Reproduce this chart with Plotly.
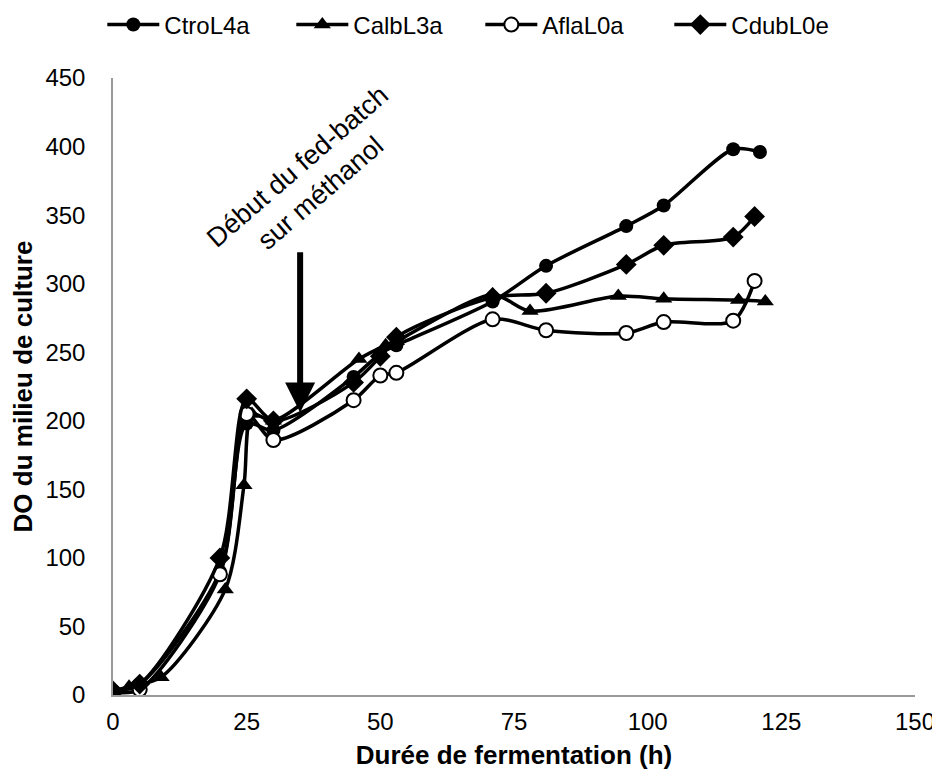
import plotly.graph_objects as go

# ---- data ----
ctro_x = [0, 5, 20, 25, 30, 45, 50, 53, 71, 81, 96, 103, 116, 121]
ctro_y = [3, 8, 90, 198, 193, 232, 249, 255, 287, 313, 342, 357, 398, 396]

calb_x = [0, 3, 9, 21, 24.5, 26, 30, 46, 51, 53, 71, 78, 94.5, 103, 117, 122]
calb_y = [3, 6, 13, 77, 153, 205, 200, 245, 255, 258, 292, 280, 291, 289, 288, 287]

afla_x = [0, 5, 20, 25, 30, 45, 50, 53, 71, 81, 96, 103, 116, 120]
afla_y = [2, 4, 88, 205, 186, 215, 233, 235, 274, 266, 264, 272, 273, 302]

cdub_x = [0, 5, 20, 25, 30, 45, 50, 53, 71, 81, 96, 103, 116, 120]
cdub_y = [3, 8, 100, 216, 200, 228, 247, 261, 290, 293, 314, 328, 334, 349]

x_ticks = [0, 25, 50, 75, 100, 125, 150]
y_ticks = [0, 50, 100, 150, 200, 250, 300, 350, 400, 450]

FONT = "Liberation Sans, Arial, sans-serif"

fig = go.Figure()

series = [
    ("CtroL4a", ctro_x, ctro_y, dict(symbol="circle", size=14, color="black")),
    ("CalbL3a", calb_x, calb_y, dict(symbol="triangle-up", size=15, color="black")),
    ("AflaL0a", afla_x, afla_y, dict(symbol="circle", size=14, color="white",
                                      line=dict(color="black", width=2))),
    ("CdubL0e", cdub_x, cdub_y, dict(symbol="diamond", size=16, color="black")),
]
for name, xs, ys, mk in series:
    fig.add_trace(go.Scatter(
        x=xs, y=ys, name=name, mode="lines+markers",
        line=dict(color="black", width=3.5, shape="spline", smoothing=0.8),
        marker=mk,
    ))

# Arrow
fig.add_annotation(x=35, y=206, ax=35, ay=324, xref="x", yref="y",
                   axref="x", ayref="y", showarrow=True, text="",
                   arrowhead=2, arrowsize=1, arrowwidth=6, arrowcolor="black")
# Text
fig.add_annotation(x=36.7, y=376, xref="x", yref="y", showarrow=False,
                   text="Début du fed-batch<br>sur méthanol", textangle=-41,
                   font=dict(family=FONT, size=27, color="black"))

fig.update_layout(
    width=932, height=762,
    margin=dict(l=105, r=25, t=70, b=75, autoexpand=False),
    paper_bgcolor="white", plot_bgcolor="white",
    font=dict(family=FONT, size=24, color="black"),
    showlegend=True,
    legend=dict(orientation="h", x=0.458, xanchor="center", xref="paper",
                y=1.086, yanchor="middle", yref="paper",
                font=dict(family=FONT, size=24), itemwidth=52,
                entrywidth=122, entrywidthmode="pixels",
                traceorder="normal"),
    xaxis=dict(range=[0, 150], tickvals=x_ticks, showgrid=False, zeroline=False,
               showline=True, linecolor="#999999", linewidth=1.5,
               ticks="", ticklabelstandoff=4, automargin=False,
               tickfont=dict(family=FONT, size=24),
               title=dict(text="<b>Durée de fermentation (h)</b>",
                          font=dict(family=FONT, size=26), standoff=18)),
    yaxis=dict(range=[0, 450], tickvals=y_ticks, showgrid=False, zeroline=False,
               showline=True, linecolor="#999999", linewidth=1.5,
               ticks="", ticklabelstandoff=21, automargin=False,
               tickfont=dict(family=FONT, size=24),
               title=dict(text="<b>DO du milieu de culture</b>",
                          font=dict(family=FONT, size=26), standoff=24)),
)

fig.write_html("out.html")
